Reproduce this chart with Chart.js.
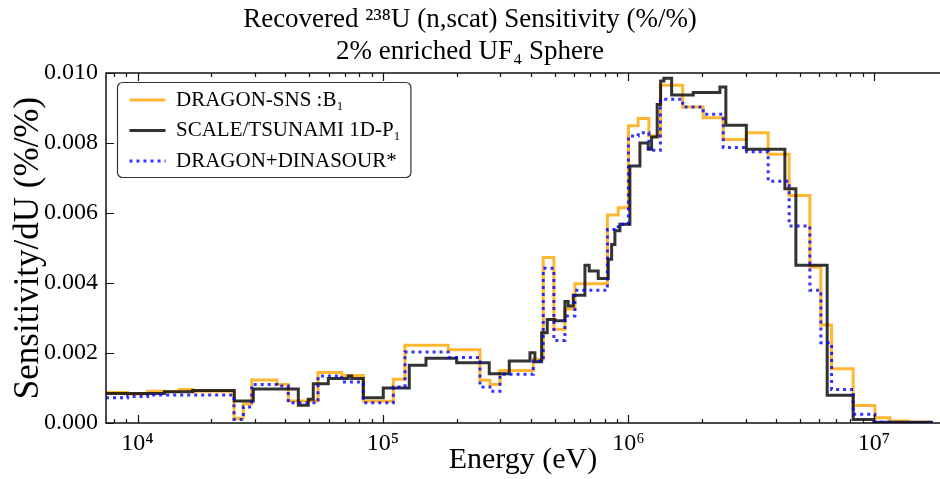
<!DOCTYPE html>
<html>
<head>
<meta charset="utf-8">
<script src="https://cdn.jsdelivr.net/npm/chart.js@4.4.0/dist/chart.umd.min.js"></script>
<style>
  html, body { margin: 0; padding: 0; background: #fff; }
  #wrap { width: 940px; height: 479px; }
</style>
</head>
<body>
<div id="wrap"><canvas id="sensChart"></canvas></div>
<script>
// Bin edges (eV) shared by the two DRAGON results
const edgesDragon = [7.44e3, 9.12e3, 1.10e4, 1.286e4, 1.48e4, 1.679e4, 2.472e4, 2.698e4, 2.919e4, 3.70e4,
  4.114e4, 5.436e4, 6.788e4, 8.315e4, 1.102e5, 1.229e5, 1.845e5, 2.484e5, 2.729e5, 2.997e5,
  4.095e5, 4.498e5, 4.970e5, 5.512e5, 6.054e5, 8.212e5, 9.089e5, 1.0e6, 1.096e6, 1.212e6,
  1.350e6, 1.663e6, 2.017e6, 2.434e6, 3.030e6, 3.711e6, 4.519e6, 5.487e6, 6.083e6, 6.726e6,
  8.236e6, 1.010e7, 1.162e7, 1.376e7, 1.739e7];

// DRAGON-SNS :B1
const sensDragonSNS = [0.00087, 0.00083, 0.00091, 0.00090, 0.00096, 0.00091, 0.00013, 0.00054, 0.00123, 0.00110,
  0.00063, 0.00144, 0.00136, 0.00062, 0.00125, 0.00222, 0.00209, 0.00122, 0.00110, 0.00150,
  0.00182, 0.00473, 0.00268, 0.00326, 0.00398, 0.00594, 0.00615, 0.00849, 0.00870, 0.00820,
  0.00965, 0.00903, 0.00872, 0.00810, 0.00829, 0.00768, 0.00650, 0.00446, 0.00280, 0.00155,
  0.00050, 0.00015, 0.00006, 0.00002];

// DRAGON+DINASOUR*
const sensDinasour = [0.00072, 0.00076, 0.00080, 0.00080, 0.00080, 0.00080, 0.00010, 0.00046, 0.00110, 0.00106,
  0.00058, 0.00134, 0.00117, 0.00058, 0.00103, 0.00203, 0.00187, 0.00103, 0.00091, 0.00139,
  0.00177, 0.00442, 0.00236, 0.00306, 0.00379, 0.00553, 0.00568, 0.00820, 0.00829, 0.00779,
  0.00925, 0.00903, 0.00882, 0.00787, 0.00775, 0.00691, 0.00563, 0.00379, 0.00229, 0.00096,
  0.00025, 0.00002, 0.00001, 0.00001];

// SCALE/TSUNAMI 1D-P1 bin edges (eV) and values
const edgesScale = [7.44e3, 1.286e4, 1.679e4, 2.479e4, 2.963e4, 4.519e4, 4.962e4, 5.200e4, 5.988e4, 7.224e4,
  7.458e4, 8.315e4, 1.003e5, 1.280e5, 1.497e5, 1.996e5, 2.710e5, 3.270e5, 3.971e5, 4.160e5,
  4.430e5, 4.670e5, 5.018e5, 5.512e5, 5.685e5, 5.960e5, 6.650e5, 6.923e5, 7.534e5, 8.275e5,
  8.544e5, 8.811e5, 9.235e5, 1.014e6, 1.114e6, 1.204e6, 1.243e6, 1.310e6, 1.353e6, 1.395e6,
  1.500e6, 1.837e6, 2.359e6, 2.495e6, 3.024e6, 4.340e6, 4.812e6, 6.454e6, 8.236e6, 1.0e7,
  1.739e7];

const sensScale = [0.00084, 0.00089, 0.00093, 0.00063, 0.00097, 0.00051, 0.00068, 0.00112, 0.00127, 0.00134,
  0.00127, 0.00072, 0.00100, 0.00165, 0.00185, 0.00172, 0.00141, 0.00177, 0.00201, 0.00175,
  0.00258, 0.00296, 0.00292, 0.00347, 0.00334, 0.00365, 0.00451, 0.00434, 0.00413, 0.00468,
  0.00510, 0.00549, 0.00568, 0.00734, 0.00800, 0.00782, 0.00817, 0.00910, 0.00977, 0.00985,
  0.00937, 0.00944, 0.00960, 0.00851, 0.00782, 0.00669, 0.00451, 0.00079, 0.00010, 0.00002];

// axis ticks
const decadeValues = [1e4, 1e5, 1e6, 1e7];
const decadeLabels = ['10⁴', '10⁵', '10⁶', '10⁷'];
const yTickValues = [0, 0.002, 0.004, 0.006, 0.008, 0.010];

const X_MIN = 7.44e3;
const X_MAX = 1.86e7;
const SERIF = "'Liberation Serif', 'DejaVu Serif', serif";

// histogram -> step points (value held until next edge)
function stepPoints(edges, vals) {
    const pts = vals.map((v, i) => ({ x: edges[i], y: v }));
    pts.push({ x: edges[edges.length - 1], y: vals[vals.length - 1] });
    return pts;
}

// minor + major positions for the log axis
function logTicks() {
    const out = [];
    [1e3, 1e4, 1e5, 1e6, 1e7].forEach(d => {
        for (let m = 1; m <= 9; m++) {
            const v = m * d;
            if (v >= X_MIN && v <= X_MAX) out.push(v);
        }
    });
    return out;
}

// white background, legend frame, spines and inward ticks
const framePlugin = {
    id: 'framePlugin',
    afterLayout(chart) {
        // put the legend in the upper left corner of the axes
        const lg = chart.legend;
        const a = chart.chartArea;
        lg.left = a.left + 14;
        lg.top = a.top + 7;
        lg.right = lg.left + lg.width;
        lg.bottom = lg.top + lg.height;
    },
    beforeDraw(chart) {
        const { ctx } = chart;
        ctx.save();
        ctx.fillStyle = '#fff';
        ctx.fillRect(0, 0, chart.width, chart.height);
        const hb = chart.legend.legendHitBoxes;
        if (hb && hb.length) {
            const l = hb[0].left - 12;
            const t = hb[0].top - 7;
            const r = Math.max(...hb.map(b => b.left + b.width)) + 10;
            const last = hb[hb.length - 1];
            const b = last.top + last.height + 6;
            ctx.beginPath();
            ctx.roundRect(l, t, r - l, b - t, 5);
            ctx.fillStyle = 'rgba(255,255,255,0.8)';
            ctx.fill();
            ctx.lineWidth = 1.2;
            ctx.strokeStyle = '#333';
            ctx.stroke();
        }
        ctx.restore();
    },
    afterDatasetsDraw(chart) {
        const { ctx, chartArea: a, scales: { x, y } } = chart;
        ctx.save();
        ctx.strokeStyle = '#111';
        ctx.lineWidth = 1.5;
        ctx.beginPath();
        ctx.moveTo(a.right, a.top);
        ctx.lineTo(a.left, a.top);
        ctx.lineTo(a.left, a.bottom);
        ctx.lineTo(a.right, a.bottom);
        ctx.stroke();
        ctx.lineWidth = 1.2;
        ctx.beginPath();
        x.ticks.forEach(t => {
            const px = Math.round(x.getPixelForValue(t.value)) + 0.5;
            const len = decadeValues.includes(t.value) ? 8 : 4;
            ctx.moveTo(px, a.bottom);
            ctx.lineTo(px, a.bottom - len);
            ctx.moveTo(px, a.top);
            ctx.lineTo(px, a.top + len);
        });
        y.ticks.forEach(t => {
            const py = Math.round(y.getPixelForValue(t.value)) + 0.5;
            ctx.moveTo(a.left, py);
            ctx.lineTo(a.left + 8, py);
        });
        ctx.stroke();
        ctx.restore();
    }
};

const ctx = document.getElementById('sensChart').getContext('2d');
const chart = new Chart(ctx, {
    type: 'line',
    data: {
        datasets: [{
            label: 'DRAGON-SNS :B₁',
            data: stepPoints(edgesDragon, sensDragonSNS),
            borderColor: 'rgba(255,165,0,0.8)',
            backgroundColor: 'rgba(255,165,0,0.8)',
            borderWidth: 3,
            order: 3
        }, {
            label: 'SCALE/TSUNAMI 1D-P₁',
            data: stepPoints(edgesScale, sensScale),
            borderColor: 'rgba(0,0,0,0.8)',
            backgroundColor: 'rgba(0,0,0,0.8)',
            borderWidth: 3,
            order: 2
        }, {
            label: 'DRAGON+DINASOUR*',
            data: stepPoints(edgesDragon, sensDinasour),
            borderColor: 'rgba(0,0,255,0.8)',
            backgroundColor: 'rgba(0,0,255,0.8)',
            borderWidth: 3,
            borderDash: [3, 4],
            order: 1
        }]
    },
    options: {
        responsive: true,
        maintainAspectRatio: false,
        animation: false,
        layout: { padding: 0 },
        elements: {
            line: { stepped: 'before', fill: false, tension: 0 },
            point: { radius: 0, pointStyle: 'line' }
        },
        plugins: {
            tooltip: { enabled: false },
            title: {
                display: true,
                text: ['Recovered ²³⁸U (n,scat) Sensitivity (%/%)', '2% enriched UF₄ Sphere'],
                color: '#000',
                font: { family: SERIF, size: 27, weight: 'normal', lineHeight: 1.185 },
                padding: { top: 4, bottom: 5 }
            },
            legend: {
                position: 'chartArea',
                align: 'start',
                labels: {
                    usePointStyle: true,
                    pointStyleWidth: 36,
                    padding: 9.5,
                    color: '#000',
                    font: { family: SERIF, size: 21 },
                    sort: (a, b) => a.datasetIndex - b.datasetIndex,
                    // keep each dataset's line style in the legend sample
                    generateLabels: c => Chart.defaults.plugins.legend.labels.generateLabels(c).map(item => {
                        const ds = c.data.datasets[item.datasetIndex];
                        item.strokeStyle = ds.borderColor;
                        item.lineWidth = ds.borderWidth;
                        item.lineDash = ds.borderDash || [];
                        item.pointStyle = 'line';
                        return item;
                    })
                }
            }
        },
        scales: {
            x: {
                type: 'logarithmic',
                min: X_MIN,
                max: X_MAX,
                afterBuildTicks: s => { s.ticks = logTicks().map(v => ({ value: v })); },
                afterFit: s => { s.height = 56; },
                grid: { display: false, drawTicks: false },
                border: { display: false },
                ticks: {
                    autoSkip: false,
                    maxRotation: 0,
                    padding: 6,
                    color: '#000',
                    font: { family: SERIF, size: 24 },
                    callback: v => {
                        const i = decadeValues.indexOf(v);
                        return i >= 0 ? decadeLabels[i] : '';
                    }
                },
                title: {
                    display: true,
                    text: 'Energy (eV)',
                    color: '#000',
                    font: { family: SERIF, size: 30, lineHeight: 1.1 },
                    padding: { top: 0, bottom: 2 }
                }
            },
            y: {
                min: 0,
                max: 0.010,
                afterBuildTicks: s => { s.ticks = yTickValues.map(v => ({ value: v })); },
                afterFit: s => { s.width = 106; },
                grid: { display: false, drawTicks: false },
                border: { display: false },
                ticks: {
                    padding: 8,
                    color: '#000',
                    font: { family: SERIF, size: 24 },
                    callback: v => v.toFixed(3)
                },
                title: {
                    display: true,
                    text: 'Sensitivity/dU (%/%)',
                    color: '#000',
                    font: { family: SERIF, size: 35, lineHeight: 1.2 },
                    padding: { top: 8, bottom: 0 }
                }
            }
        }
    },
    plugins: [framePlugin]
});
</script>
</body>
</html>
